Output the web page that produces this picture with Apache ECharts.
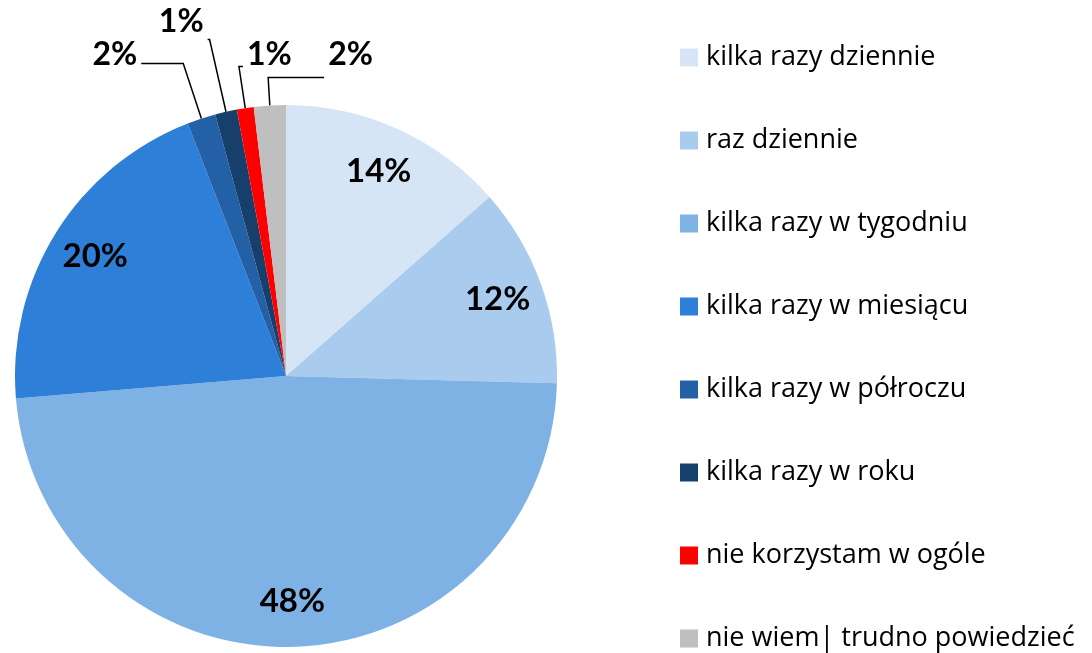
<!DOCTYPE html>
<html>
<head>
<meta charset="utf-8">
<script src="https://cdn.jsdelivr.net/npm/echarts@6/dist/echarts.min.js"></script>
<style>
  html, body { margin: 0; padding: 0; background: #fff; }
  #chart { width: 1092px; height: 653px; }
</style>
</head>
<body>
<div id="chart"></div>
<script>
// categories and shares (%)
const categories = [
  'kilka razy dziennie',
  'raz dziennie',
  'kilka razy w tygodniu',
  'kilka razy w miesiącu',
  'kilka razy w półroczu',
  'kilka razy w roku',
  'nie korzystam w ogóle',
  'nie wiem| trudno powiedzieć'
]
const shares = [13.5, 11.9, 48.2, 20.4, 1.7, 1.3, 1.0, 1.9]
const colors = ['#d6e5f6', '#a9cbee', '#7eb1e4', '#2e7fd8', '#2360a5', '#173f6c', '#ff0000', '#bfbfbf']

// slices too thin for an inside label get a leader line instead
const smallSlice = v => v < 5
// leader line lengths for the thin slices (by index), which ones point right,
// and how far each label sits above the end of its line
const leader = {
  4: { length: 58, length2: 42 },
  5: { length: 74, length2: 2 },
  6: { length: 42, length2: 4 },
  7: { length: 28, length2: 56 }
}
const pointRight = [6, 7]
const labelLift = { 4: 9, 5: 18, 6: 12, 7: 23 }

const chart = echarts.init(document.getElementById('chart'))

const fmt = p => Math.round(p.value) + '%'
const center = [286, 376]
const R = 271

chart.setOption({
  animation: false,
  color: colors,
  legend: {
    orient: 'vertical',
    left: 680,
    top: 44,
    padding: 0,
    itemWidth: 18,
    itemHeight: 18,
    itemGap: 56,
    icon: 'rect',
    textStyle: {
      fontFamily: '"Open Sans", sans-serif',
      fontSize: 27,
      lineHeight: 27,
      color: '#000',
      padding: [0, 0, 0, 3]
    },
    data: categories
  },
  series: [
    {
      type: 'pie',
      center: center,
      radius: [0, R],
      startAngle: 90,
      clockwise: true,
      avoidLabelOverlap: false,
      itemStyle: { borderWidth: 0 },
      emphasis: { disabled: true },
      label: {
        show: true,
        position: 'outside',
        formatter: fmt,
        fontFamily: 'Lato, sans-serif',
        fontWeight: 'bold',
        fontSize: 32,
        color: '#000',
        overflow: 'none'
      },
      labelLine: {
        show: true,
        lineStyle: { color: '#000', width: 1.5 }
      },
      // Excel puts the last two leader labels on the right and lifts every label above its line
      labelLayout: function (params) {
        const i = params.dataIndex
        const pts = params.labelLinePoints
        if (!pts || !leader[i]) return {}
        const p1 = pts[1]
        const right = pointRight.indexOf(i) >= 0
        const p2 = right ? [p1[0] + Math.abs(pts[2][0] - p1[0]), p1[1]] : pts[2]
        return {
          x: right ? p2[0] + 4 : p2[0] - 4,
          y: p2[1] - (labelLift[i] || 0),
          align: right ? 'left' : 'right',
          verticalAlign: 'middle',
          labelLinePoints: [pts[0], p1, p2]
        }
      },
      data: categories.map((name, i) => ({
        name,
        value: shares[i],
        label: { show: smallSlice(shares[i]) },
        labelLine: Object.assign({ show: smallSlice(shares[i]) }, leader[i] || {})
      }))
    },
    {
      // transparent ring that only carries the inside labels
      type: 'pie',
      center: center,
      radius: [180, 264],
      startAngle: 90,
      silent: true,
      legendHoverLink: false,
      itemStyle: { color: 'rgba(0,0,0,0)', borderWidth: 0 },
      label: {
        show: true,
        position: 'inside',
        formatter: fmt,
        fontFamily: 'Lato, sans-serif',
        fontWeight: 'bold',
        fontSize: 33,
        color: '#000'
      },
      labelLine: { show: false },
      data: categories.map((name, i) => ({
        name: name + ' ',
        value: shares[i],
        label: { show: !smallSlice(shares[i]) }
      }))
    }
  ]
})
</script>
</body>
</html>
